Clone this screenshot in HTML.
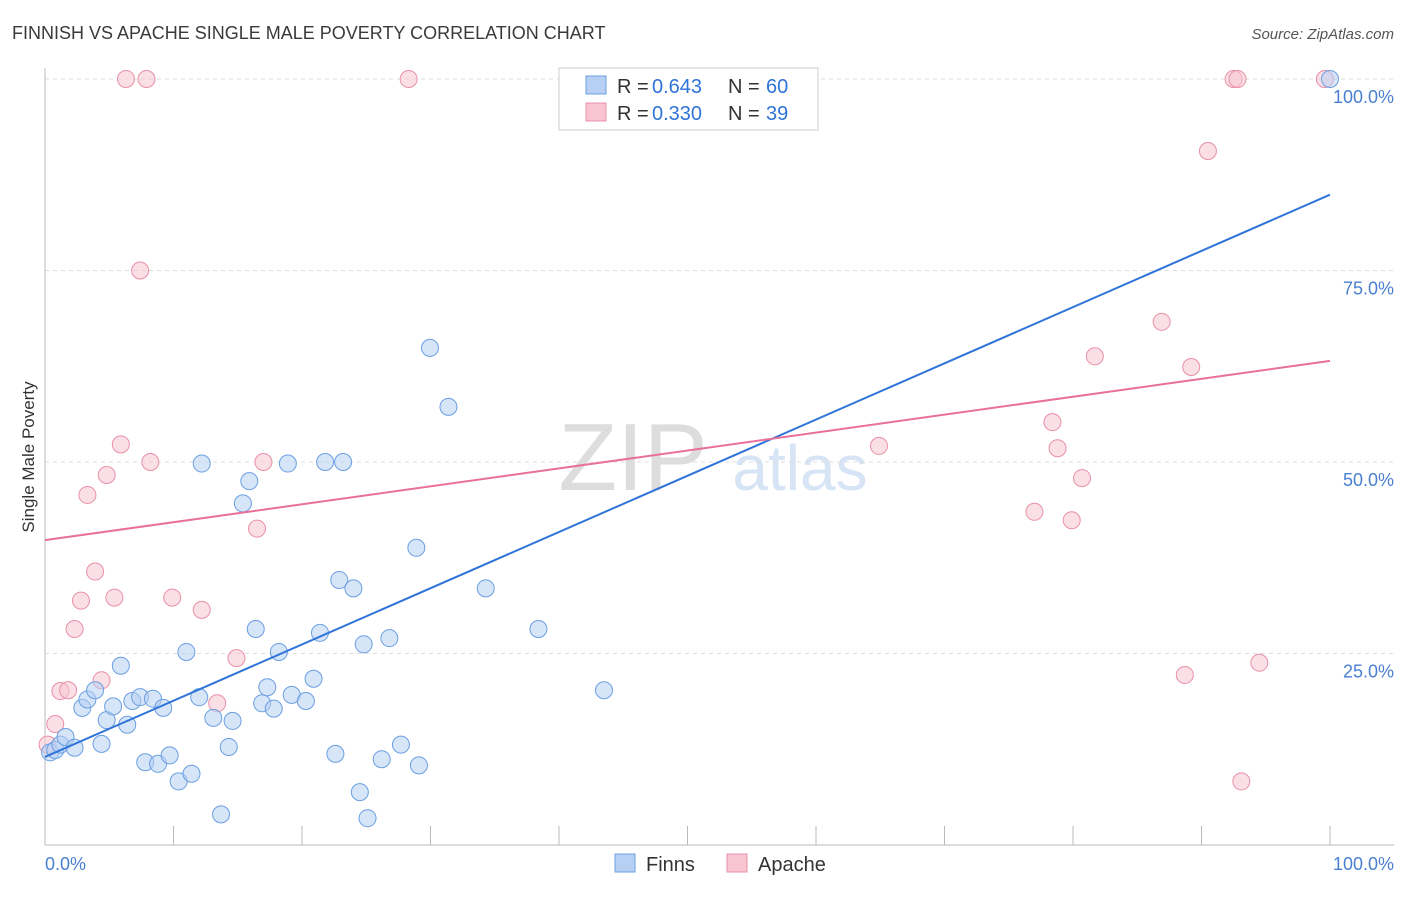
<!DOCTYPE html>
<html><head><meta charset="utf-8">
<style>
body{margin:0;background:#fff;font-family:"Liberation Sans",sans-serif;}
svg text{font-family:"Liberation Sans",sans-serif;}
</style></head>
<body>
<svg id="c" width="1406" height="892" xmlns="http://www.w3.org/2000/svg">
<text x="12" y="39" font-size="18" fill="#3a3a3a">FINNISH VS APACHE SINGLE MALE POVERTY CORRELATION CHART</text>
<text x="1394" y="39" font-size="15" fill="#555" font-style="italic" text-anchor="end">Source: ZipAtlas.com</text>
<text x="34" y="457" font-size="17" fill="#333" text-anchor="middle" transform="rotate(-90 34 457)">Single Male Poverty</text>
<text x="633" y="490" font-size="96" fill="#ddd" font-family="Liberation Serif" text-anchor="middle">ZIP</text>
<text x="800" y="490" font-size="64" fill="#d6e4f5" text-anchor="middle">atlas</text>
<g id="grid"></g>
<g id="marks"></g>
<g>
<rect x="559" y="68" width="259" height="62" fill="#fff" stroke="#ccc"/>
<rect x="586" y="76" width="20" height="18" fill="#b6d0f4" stroke="#6a9fe0"/>
<rect x="586" y="103" width="20" height="18" fill="#f8c4d2" stroke="#e890a8"/>
<text x="617" y="93" font-size="20" fill="#333">R =</text>
<text x="652" y="93" font-size="20" fill="#2f74d8">0.643</text>
<text x="728" y="93" font-size="20" fill="#333">N =</text>
<text x="766" y="93" font-size="20" fill="#2f74d8">60</text>
<text x="617" y="120" font-size="20" fill="#333">R =</text>
<text x="652" y="120" font-size="20" fill="#2f74d8">0.330</text>
<text x="728" y="120" font-size="20" fill="#333">N =</text>
<text x="766" y="120" font-size="20" fill="#2f74d8">39</text>
</g>
<g>
<rect x="615" y="854" width="20" height="18" fill="#b6d0f4" stroke="#6a9fe0"/>
<text x="646" y="871" font-size="20" fill="#333">Finns</text>
<rect x="727" y="854" width="20" height="18" fill="#f8c4d2" stroke="#e890a8"/>
<text x="758" y="871" font-size="20" fill="#333">Apache</text>
</g>
</svg>
<script>
const yTicks=[25,50,75,100];
const yTickLabels=["25.0%","50.0%","75.0%","100.0%"];
const xTicks=[0,10,20,30,40,50,60,70,80,90,100];
const finnsX=[0.4,0.8,1.2,1.6,2.3,2.9,3.3,3.9,4.4,4.8,5.3,5.9,6.4,6.8,7.4,7.8,8.4,8.8,9.2,9.7,10.4,11.0,11.4,12.0,12.2,13.1,13.7,14.3,14.6,15.4,15.9,16.4,16.9,17.3,17.8,18.2,18.9,19.2,20.3,20.9,21.4,21.8,22.6,22.9,23.2,24.0,24.5,24.8,25.1,26.2,26.8,27.7,28.9,29.1,29.96,31.4,34.3,38.4,43.5,100];
const finnsY=[12.1,12.4,13.1,14.1,12.7,17.9,19.0,20.2,13.2,16.3,18.1,23.4,15.7,18.8,19.3,10.8,19.1,10.6,17.9,11.7,8.3,25.2,9.3,19.3,49.8,16.6,4.0,12.8,16.2,44.6,47.5,28.2,18.5,20.6,17.8,25.2,49.8,19.6,18.8,21.7,27.7,50.0,11.9,34.6,50.0,33.5,6.9,26.2,3.5,11.2,27.0,13.1,38.8,10.4,64.9,57.2,33.5,28.2,20.2,100];
const apacheX=[0.2,0.8,1.2,1.8,2.3,2.8,3.3,3.9,4.4,4.8,5.4,5.9,6.3,7.4,7.9,8.2,9.9,12.2,13.4,14.9,16.5,17.0,28.3,64.9,77.0,78.4,78.8,79.9,80.7,81.7,86.9,88.7,89.2,90.5,92.5,92.8,93.1,94.5,99.6];
const apacheY=[13.1,15.8,20.1,20.2,28.2,31.9,45.7,35.7,21.5,48.3,32.3,52.3,100,75.0,100,50.0,32.3,30.7,18.5,24.4,41.3,50.0,100,52.1,43.5,55.2,51.8,42.4,47.9,63.8,68.3,22.2,62.4,90.6,100,100,8.3,23.8,100];
const finnsTrend=[11.5,84.9];
const apacheTrend=[39.8,63.2];
const NS="http://www.w3.org/2000/svg";
const X=v=>45+v*12.85, Y=v=>845-v*7.66;
function mk(tag,attrs,parent){const e=document.createElementNS(NS,tag);for(const k in attrs)e.setAttribute(k,attrs[k]);parent.appendChild(e);return e;}
const grid=document.getElementById('grid'), marks=document.getElementById('marks');
yTicks.forEach((t,i)=>{
 const l=mk('line',{x1:45,x2:1394,y1:Y(t),y2:Y(t),stroke:'#ddd','stroke-dasharray':'4,4'},grid);
 
 
 const tx=mk('text',{x:1394,y:Y(t)+24,'font-size':18,fill:'#4a7fd0','text-anchor':'end'},grid);
 tx.textContent=yTickLabels[i];
 
 
});
const ax=mk('line',{x1:45,x2:1394,y1:845,y2:845,stroke:'#bbb'},grid);


const yax=mk('line',{x1:45,x2:45,y1:68,y2:845,stroke:'#bbb'},grid);


xTicks.forEach(t=>{
 const l=mk('line',{x1:X(t),x2:X(t),y1:826,y2:845,stroke:'#bbb'},grid);
 
 
});
const x0=mk('text',{x:45,y:870,'font-size':18,fill:'#4a7fd0'},grid);x0.textContent='0.0%';


const x1=mk('text',{x:1394,y:870,'font-size':18,fill:'#4a7fd0','text-anchor':'end'},grid);x1.textContent='100.0%';


function pts(xs,ys,fill,stroke,name){xs.forEach((x,i)=>{
 const c=mk('circle',{cx:X(x),cy:Y(ys[i]),r:8.5,fill:fill,'fill-opacity':0.55,stroke:stroke,'stroke-width':1},marks);
 
 
});}
pts(apacheX,apacheY,'#f8c4d2','#e890a8','apache-point');
pts(finnsX,finnsY,'#b6d0f4','#6a9fe0','finns-point');
const tb=mk('line',{x1:X(0),y1:Y(finnsTrend[0]),x2:X(100),y2:Y(finnsTrend[1]),stroke:'#2f74d8','stroke-width':2},marks);


const tp=mk('line',{x1:X(0),y1:Y(apacheTrend[0]),x2:X(100),y2:Y(apacheTrend[1]),stroke:'#e8709a','stroke-width':2},marks);


</script>
</body></html>
